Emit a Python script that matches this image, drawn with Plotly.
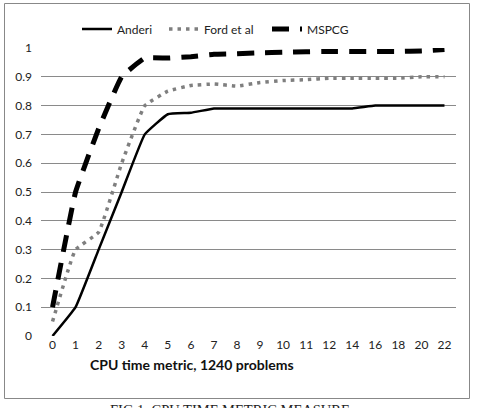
import plotly.graph_objects as go

categories = ["0", "1", "2", "3", "4", "5", "6", "7", "8", "9", "10", "11", "12",
              "14", "16", "18", "20", "22"]
anderi = [0.0, 0.1, 0.3, 0.5, 0.7, 0.77, 0.775, 0.79, 0.79, 0.79, 0.79, 0.79, 0.79,
          0.79, 0.8, 0.8, 0.8, 0.8]
ford = [0.05, 0.3, 0.36, 0.6, 0.8, 0.85, 0.87, 0.875, 0.868, 0.88, 0.887, 0.89, 0.895,
        0.895, 0.895, 0.895, 0.9, 0.9]
mspcg = [0.1, 0.5, 0.72, 0.9, 0.965, 0.965, 0.97, 0.978, 0.98, 0.983, 0.985, 0.987, 0.988,
         0.988, 0.988, 0.988, 0.99, 0.995]
y_ticks = [0, 0.1, 0.2, 0.3, 0.4, 0.5, 0.6, 0.7, 0.8, 0.9, 1]
y_tick_labels = ["0", "0.1", "0.2", "0.3", "0.4", "0.5", "0.6", "0.7", "0.8", "0.9", "1"]
x_title = "CPU time metric, 1240 problems"
caption = "FIG 1. CPU TIME METRIC MEASURE"

W, H = 481, 408
L, R, T, B = 41, 456, 48, 336  # plot area in px


def px_x(x):
    return (x - L) / (R - L)


def px_y(y):
    return (B - y) / (B - T)


fig = go.Figure()
fig.add_trace(go.Scatter(x=categories, y=anderi, name="Anderi", mode="lines", legend="legend",
                         line=dict(color="black", width=2.5, shape="spline", smoothing=0.3)))
fig.add_trace(go.Scatter(x=categories, y=ford, name="Ford et al", mode="lines", legend="legend2",
                         line=dict(color="#7f7f7f", width=3.5, dash="3.5px,5px",
                                   shape="spline", smoothing=0.3)))
fig.add_trace(go.Scatter(x=categories, y=mspcg, name="MSPCG", mode="lines", legend="legend3",
                         line=dict(color="black", width=5, dash="17px,11px",
                                   shape="spline", smoothing=0.3)))

leg_common = dict(y=px_y(29), xanchor="left", yanchor="middle", orientation="h",
                  font=dict(size=12, color="#222"), bgcolor="rgba(0,0,0,0)")

fig.update_layout(
    width=W, height=H,
    margin=dict(l=L, r=W - R, t=T, b=H - B, pad=0),
    paper_bgcolor="white", plot_bgcolor="white",
    font=dict(family="Lato, Liberation Sans, sans-serif", size=12, color="#222"),
    showlegend=True,
    legend=dict(x=px_x(77), **leg_common),
    legend2=dict(x=px_x(164), **leg_common),
    legend3=dict(x=px_x(267), **leg_common),
    xaxis=dict(type="category", range=[-0.5, len(categories) - 0.5], showgrid=False,
               showline=False, zeroline=False, ticks="", tickfont=dict(size=12, color="#222")),
    yaxis=dict(range=[0, 1], tickvals=y_ticks, ticktext=y_tick_labels, showgrid=True,
               gridcolor="#8a8a8a", gridwidth=1, zeroline=False, showline=False, ticks="",
               ticklabelstandoff=8, tickfont=dict(size=12, color="#222")),
    annotations=[
        dict(text="<b>" + x_title + "</b>", x=px_x(192), y=px_y(375), xref="paper", yref="paper",
             showarrow=False, font=dict(size=14, color="#111")),
        dict(text=caption, x=px_x(230), y=px_y(400), xref="paper", yref="paper",
             xanchor="center", yanchor="top", showarrow=False,
             font=dict(family="Liberation Serif, serif", size=14.5, color="#222")),
    ],
    shapes=[dict(type="rect", xref="paper", yref="paper", x0=px_x(4.5), x1=px_x(469.5),
                 y0=px_y(398.5), y1=px_y(3.5), line=dict(color="#888", width=1))],
)

fig.write_html("out.html")
